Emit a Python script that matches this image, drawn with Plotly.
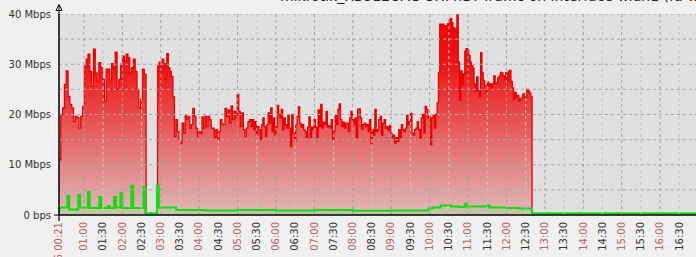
import numpy as np
import pandas as pd
import plotly.graph_objects as go

DAY = "2015-06-05 "

# ---- red series (Mbps), read in segments: (start, end, values) ----
red_seg_a = [11, 20, 21.3, 26, 28.7, 23.6, 22, 21.3, 18.6, 19.6, 19.3, 17.3, 19.6, 21.6, 29.6, 31, 32,
             28.6, 25.6, 33, 28.3, 26.6, 30.3, 29.3, 27, 22.6, 29, 29, 26.6, 30.1, 29.3, 32.4, 25, 27,
             30, 31.6, 30.6, 32, 31.3, 28.3, 29.3, 31, 28.6, 25, 21.3, 23, 29, 28]
red_seg_gap = [0.1]
red_seg_b = [29.6, 30.4, 28.6, 31, 30.1, 27, 32.1, 29.3, 28.6, 27.6, 23.5, 15.6, 19, 16.6, 15, 14.3,
             18.3, 16.3, 19.7, 19, 19.6, 17.3, 18, 21.2, 19.6, 17.3, 15.6, 16.6, 16.3, 19.5, 17.3,
             19.6, 17.6, 19.6, 19, 17.3, 17.3, 15.4, 17, 15, 16.6, 19, 18.1, 18, 21.2, 19.6, 20.9,
             18.3, 21.7, 19, 20.6, 19.3, 24, 20.6, 17.6, 20.3, 17, 15.6, 17.3, 18.6, 19]
red_seg_c = [17.6, 19, 17, 18.6, 15.9, 17.6, 17, 15, 18, 19.3, 17.6, 15.6, 18, 20.3, 18.3, 21.3, 16.6,
             19.3, 15.9, 17.6, 21.8, 20, 19.3, 21, 17, 19.3, 18, 17.3, 19.8, 17.3, 13.6, 20, 16.3,
             14.6, 18, 19.6, 21.5, 18.3, 17.5, 18, 17, 16.6, 15.4, 17.5, 19.5, 15.4, 17.5, 17, 19,
             17.5, 15.4, 20.9, 17.6, 22, 17.3, 18.5, 18, 20.6, 17.5, 17.8, 17.3, 19, 15, 16.8, 19.8,
             18, 21, 22.1, 19, 17.6, 18.5, 17.3, 18.3]
red_seg_d = [18.3, 16.6, 19.3, 20.6, 19, 18, 19.3, 15.4, 21, 21.1, 19.3, 17.1, 18, 18.3, 17.6, 18,
             16.6, 19, 14.3, 17, 15.9, 21, 16.6, 17, 19, 19.6, 15.9, 18.3, 19, 17.3, 17.6, 16.8, 17.8,
             16.3, 15.4, 15.9, 14.3, 15.4, 14.6, 17, 15.4, 18, 17, 16.6, 17.3, 19.8, 18, 18.6, 20.2,
             16.3, 15.9, 17, 17.3, 18.6, 17, 15, 19.3, 20, 16.3, 21.6, 21, 19.3, 19.6, 14, 19.3, 19.8,
             17.3, 20, 22.3, 28.3, 38, 37, 38]
red_seg_e = [37.3, 37.7, 37.1, 38.1, 38.8, 39.1, 38.3, 37.3, 37.1, 37.1, 40, 30.4, 22.8, 28.7, 25.9,
             28.1, 32.6, 33.1, 32.8, 31.7, 30.4, 29.7, 29.2, 26.1, 24.6, 27.5, 24.7, 23.5, 32.3, 28.3,
             26.8, 25.7, 24.3, 26.5, 25.7, 26.1, 25.1, 26.1, 27.7, 26.1, 26.3, 27.3, 27.7, 28.4, 28.3,
             27.7, 27.1, 28.3, 26.6, 28.6, 28.8, 26.6, 25.3, 23, 24.4, 23.5, 23.8, 22.6, 23.1, 23.3,
             24.1, 23.3, 23.5, 25, 24.7, 24.3, 23.6]
red_seg_off = [0.0]
red_segments = [("00:21", "02:37", red_seg_a), ("02:37", "02:55", red_seg_gap),
                ("02:55", "05:21", red_seg_b), ("05:21", "07:51", red_seg_c),
                ("07:51", "10:22", red_seg_d), ("10:22", "12:40", red_seg_e),
                ("12:40", "16:57", red_seg_off)]

# ---- green series (Mbps), step breakpoints ----
green_times = ["00:21", "00:22", "00:34", "00:37", "00:51", "00:54", "01:06", "01:09", "01:24", "01:27",
               "01:37", "01:40", "01:47", "01:50", "01:57", "02:00", "02:14", "02:17", "02:33", "02:36",
               "02:54", "02:57", "03:24", "04:10", "05:00", "06:00", "07:00", "08:00", "09:00", "09:58",
               "10:05", "10:17", "10:33", "10:45", "10:55", "10:58", "11:31", "11:34", "12:00", "12:20",
               "12:40", "16:57"]
green_vals = [1.0, 1.5, 3.8, 1.1, 4.0, 1.5, 4.6, 1.4, 3.6, 1.4,
              1.8, 1.4, 3.6, 1.5, 4.4, 1.4, 5.8, 1.4, 5.5, 0.35,
              5.8, 1.5, 1.0, 0.9, 1.0, 0.9, 1.0, 0.85, 0.9, 1.3,
              1.5, 1.9, 1.7, 1.6, 2.3, 1.7, 1.9, 1.5, 1.4, 1.3,
              0.35, 0.35]

# ---- axis labels ----
y_tickvals = [0, 10, 20, 30, 40]
y_ticktext = ["0 bps", "10 Mbps", "20 Mbps", "30 Mbps", "40 Mbps"]
x_ticks = ["00:21"] + [f"{h:02d}:{m:02d}" for h in range(1, 17) for m in (0, 30)]
first_label_prefix = "2015-06-05 "
title_text = "mikrotik_RB912UAG-5HPnD: Traffic on interface wlan1 (fa-wlan)"

HOUR_COL = "#b86262"
TXT_COL = "#333333"

# build red arrays
red_t, red_v = [], []
for s, e, vals in red_segments:
    t0 = pd.Timestamp(DAY + s)
    t1 = pd.Timestamp(DAY + e)
    n = len(vals)
    for k, v in enumerate(vals):
        red_t.append(t0 + (t1 - t0) * k / n)
        red_v.append(v)
red_t.append(pd.Timestamp(DAY + "16:57"))
red_v.append(0.0)

g_t = [pd.Timestamp(DAY + t) for t in green_times]

fig = go.Figure()
fig.add_trace(go.Scatter(
    x=red_t, y=red_v, mode="lines", line=dict(color="#ee0000", width=1.3, shape="hv"),
    fill="tozeroy",
    fillgradient=dict(type="vertical", start=0, stop=40,
                      colorscale=[[0, "#dfb8b8"], [0.25, "#e38686"], [0.5, "#e84a4a"],
                                  [0.75, "#ef1414"], [1, "#f40000"]]),
    hoverinfo="skip"))
fig.add_trace(go.Scatter(
    x=g_t, y=green_vals, mode="lines", line=dict(color="#11dd11", width=2, shape="hv"),
    fill="tozeroy", fillcolor="#c4c4a2", hoverinfo="skip"))

# tick labels
xt_vals, xt_text = [], []
for lab in x_ticks:
    xt_vals.append(pd.Timestamp(DAY + lab))
    is_hour = lab.endswith(":00") or lab == "00:21"
    txt = (first_label_prefix + lab) if lab == "00:21" else lab
    col = HOUR_COL if is_hour else TXT_COL
    xt_text.append(f'<span style="color:{col}">{txt}</span>')

shapes = []
# horizontal grid every 5 Mbps
for yv in np.arange(5, 45, 5):
    shapes.append(dict(type="line", xref="paper", yref="y", x0=0, x1=1, y0=yv, y1=yv,
                       line=dict(color="#a8a8a8", width=1, dash="3px,3px"), layer="above"))
# vertical grid at each half hour
for lab, tv in zip(x_ticks[1:], xt_vals[1:]):
    dark = lab.endswith(":00")
    shapes.append(dict(type="line", xref="x", yref="paper", x0=tv, x1=tv, y0=0, y1=1,
                       line=dict(color="#a0a0a0" if dark else "#c6c6c6", width=1, dash="3px,3px"),
                       layer="above"))
# axes
shapes.append(dict(type="line", xref="paper", yref="paper", x0=0, x1=1, y0=0, y1=0,
                   line=dict(color="black", width=1.5), layer="above"))
shapes.append(dict(type="line", xref="paper", yref="paper", x0=0, x1=0, y0=0, y1=1,
                   line=dict(color="black", width=1.5), layer="above"))
shapes.append(dict(type="path", xref="paper", yref="paper", xsizemode="pixel", ysizemode="pixel",
                   xanchor=0, yanchor=1, path="M0,0 L0,9 M-3,3.5 L3,3.5 L0,9.5 Z",
                   line=dict(color="black", width=1), fillcolor="white", layer="above"))
shapes.append(dict(type="path", xref="paper", yref="paper", xsizemode="pixel", ysizemode="pixel",
                   xanchor=0, yanchor=0, path="M-5,0 L0,0 M0,0 L0,-6",
                   line=dict(color="black", width=1.2), layer="above"))

fig.update_layout(
    width=696, height=257,
    margin=dict(l=59, r=0, t=14, b=42, autoexpand=False),
    paper_bgcolor="#f0f0f0", plot_bgcolor="#e0e0e0",
    showlegend=False,
    font=dict(family="DejaVu Sans", size=10, color=TXT_COL),
    shapes=shapes,
    xaxis=dict(range=[pd.Timestamp(DAY + "00:21"), pd.Timestamp(DAY + "16:56:06")],
               tickvals=xt_vals, ticktext=xt_text, tickangle=-90, showgrid=False,
               zeroline=False, ticks="", ticklabelstandoff=4, automargin=False,
               tickfont=dict(family="DejaVu Sans", size=10)),
    yaxis=dict(range=[0, 40], tickvals=y_tickvals, ticktext=y_ticktext, showgrid=False,
               zeroline=False, ticks="", ticklabelstandoff=7, automargin=False,
               tickfont=dict(family="DejaVu Sans", size=10, color=TXT_COL)),
    annotations=[dict(text=title_text, xref="paper", yref="paper", x=(278 - 59) / 637, y=1.09,
                      xanchor="left", yanchor="middle", showarrow=False,
                      font=dict(family="DejaVu Sans", size=14, color="#222222"))],
)

fig.write_html("out.html")
